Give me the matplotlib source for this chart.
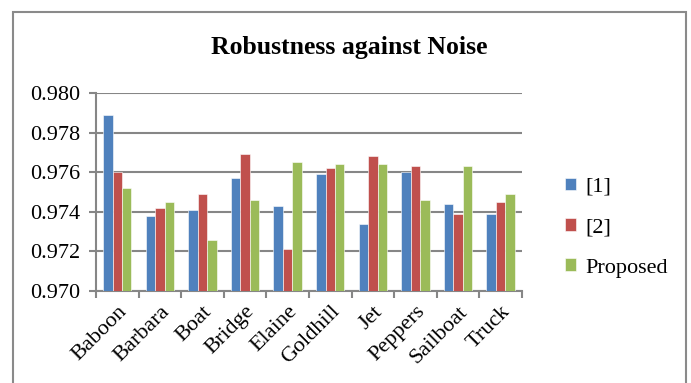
import matplotlib
matplotlib.use("Agg")
import matplotlib.pyplot as plt
import numpy as np

categories = ["Baboon", "Barbara", "Boat", "Bridge", "Elaine",
              "Goldhill", "Jet", "Peppers", "Sailboat", "Truck"]
series_names = ["[1]", "[2]", "Proposed"]
ref1 = [0.9789, 0.9738, 0.9741, 0.9757, 0.9743, 0.9759, 0.9734, 0.9760, 0.9744, 0.9739]
ref2 = [0.9760, 0.9742, 0.9749, 0.9769, 0.9721, 0.9762, 0.9768, 0.9763, 0.9739, 0.9745]
proposed = [0.9752, 0.9745, 0.9726, 0.9746, 0.9765, 0.9764, 0.9764, 0.9746, 0.9763, 0.9749]
y_ticks = [0.970, 0.972, 0.974, 0.976, 0.978, 0.980]

colors = ["#4F81BD", "#C0504D", "#9BBB59"]
grid_color = "#868686"

plt.rcParams["font.family"] = "serif"
plt.rcParams["font.serif"] = ["Liberation Serif", "DejaVu Serif"]

fig = plt.figure(figsize=(6.91, 3.83), dpi=100)
ax = fig.add_axes([0.1389, 0.2402, 0.6165, 0.517])

x = np.arange(len(categories))
w = 1 / 4.5
for i, (vals, name, c) in enumerate(zip([ref1, ref2, proposed], series_names, colors)):
    ax.bar(x + (i - 1) * w, np.array(vals) - 0.970, bottom=0.970, width=w,
           color=c, edgecolor="white", linewidth=0.4, label=name, zorder=3)

ax.set_xlim(-0.5, len(categories) - 0.5)
ax.set_ylim(0.970, 0.980)
ax.set_yticks(y_ticks)
ax.set_yticklabels([f"{v:.3f}" for v in y_ticks], fontsize=16)
ax.yaxis.grid(True, color=grid_color, linewidth=1.5, zorder=0)
ax.set_axisbelow(True)

ax.set_xticks(x)
ax.set_xticklabels(categories, rotation=45, ha="right", rotation_mode="anchor", fontsize=16)
ax.tick_params(axis="x", length=0, pad=8)
ax.set_xticks(np.arange(-0.5, len(categories), 1.0), minor=True)
ax.tick_params(axis="x", which="minor", length=5, width=1.5, color=grid_color, direction="out")
ax.tick_params(axis="y", length=5, width=1.5, color=grid_color, direction="out", pad=6)

for side in ["top", "right"]:
    ax.spines[side].set_visible(False)
for side in ["left", "bottom"]:
    ax.spines[side].set_color(grid_color)
    ax.spines[side].set_linewidth(1.5)

fig.text(0.505, 0.877, "Robustness against Noise", ha="center", va="center",
         fontsize=18.5, fontweight="bold")

leg = ax.legend(loc="center left", bbox_to_anchor=(1.08, 0.32), frameon=False,
                fontsize=16, handlelength=0.5, handleheight=0.5,
                labelspacing=0.95, handletextpad=0.4, borderaxespad=0)

# chart-area frame, open at the bottom edge
border = plt.Rectangle((13 / 691, -0.05), 673 / 691, 1.05 - 12 / 383,
                       transform=fig.transFigure, fill=False,
                       edgecolor="#8a8a8a", linewidth=1.5)
fig.patches.append(border)

fig.savefig("out.png", dpi=100)
